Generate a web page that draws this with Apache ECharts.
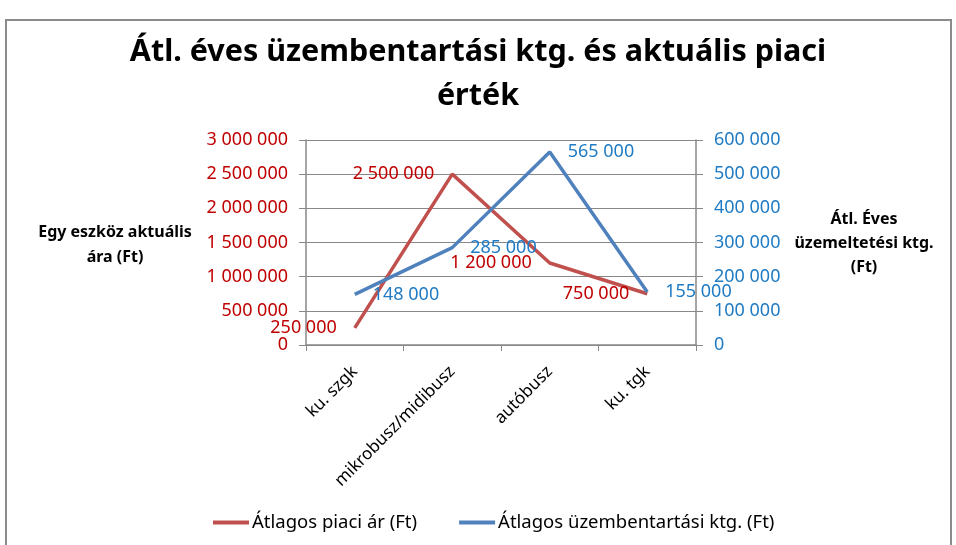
<!DOCTYPE html>
<html>
<head>
<meta charset="utf-8">
<script src="https://cdn.jsdelivr.net/npm/echarts@6/dist/echarts.min.js"></script>
<style>
html,body{margin:0;padding:0;background:#fff;}
#chart{width:956px;height:545px;}
</style>
</head>
<body>
<div id="chart"></div>
<script>
var categories = ['ku. szgk', 'mikrobusz/midibusz', 'autóbusz', 'ku. tgk'];
var piaciAr = [250000, 2500000, 1200000, 750000];
var uzemKtg = [148000, 285000, 565000, 155000];
var seriesNames = ['Átlagos piaci ár (Ft)', 'Átlagos üzembentartási ktg. (Ft)'];
var titleText = 'Átl. éves üzembentartási ktg. és aktuális piaci\nérték';
var leftAxisName = 'Egy eszköz aktuális\nára (Ft)';
var rightAxisName = 'Átl. Éves\nüzemeltetési ktg.\n(Ft)';

function fmt(v) {
  var s = String(Math.round(v));
  return s.replace(/\B(?=(\d{3})+(?!\d))/g, ' ');
}

var FONT = 'Noto Sans';
var chart = echarts.init(document.getElementById('chart'));
chart.setOption({
  animation: false,
  textStyle: {fontFamily: FONT},
  graphic: [
    {type: 'rect', shape: {x: 6, y: 20, width: 945, height: 540},
     style: {fill: 'none', stroke: '#8c8c8c', lineWidth: 2}, silent: true},
    {type: 'text', x: 115, y: 220,
     style: {text: leftAxisName, font: 'bold 16px "Noto Sans"', fill: '#000', align: 'center', verticalAlign: 'top', lineHeight: 25}, z: 10},
    {type: 'text', x: 864, y: 207,
     style: {text: rightAxisName, font: 'bold 16px "Noto Sans"', fill: '#000', align: 'center', verticalAlign: 'top', lineHeight: 24}, z: 10}
  ],
  title: {
    text: titleText,
    left: 'center',
    top: 25,
    textStyle: {fontFamily: FONT, fontSize: 30.5, fontWeight: 'bold', color: '#000', lineHeight: 44}
  },
  legend: {
    bottom: 8,
    left: 208,
    itemWidth: 36,
    itemHeight: 4,
    itemGap: 42,
    icon: 'rect',
    textStyle: {fontFamily: FONT, fontSize: 18.5, color: '#000', padding: [0, 0, 0, -2]},
    data: seriesNames
  },
  grid: {left: 306, right: 260, top: 140, bottom: 200, containLabel: false},
  xAxis: {
    type: 'category',
    data: categories,
    boundaryGap: true,
    axisLine: {lineStyle: {color: '#888', width: 1.5}},
    axisTick: {show: true, length: 6, lineStyle: {color: '#888'}},
    axisLabel: {rotate: 45, fontSize: 17, color: '#000', margin: 24, fontFamily: FONT}
  },
  yAxis: [
    {
      type: 'value', min: 0, max: 3000000, interval: 500000, position: 'left',
      axisLine: {show: true, lineStyle: {color: '#888', width: 1.5}},
      axisTick: {show: true, length: 7, lineStyle: {color: '#888'}},
      splitLine: {show: true, lineStyle: {color: '#888', width: 1.2}},
      axisLabel: {formatter: fmt, color: '#C00000', fontSize: 18, margin: 18, fontFamily: FONT}
    },
    {
      type: 'value', min: 0, max: 600000, interval: 100000, position: 'right',
      axisLine: {show: true, lineStyle: {color: '#888', width: 1.5}},
      axisTick: {show: true, length: 7, lineStyle: {color: '#888'}},
      splitLine: {show: false},
      axisLabel: {formatter: fmt, color: '#1F7BC4', fontSize: 18, margin: 18, fontFamily: FONT}
    }
  ],
  series: [
    {
      name: seriesNames[0], type: 'line', yAxisIndex: 0, data: piaciAr,
      symbol: 'circle', symbolSize: 0, showSymbol: true,
      lineStyle: {color: '#C0504D', width: 3.5}, itemStyle: {color: '#C0504D'},
      label: {show: true, position: 'left', distance: 18, formatter: function (p) { return fmt(p.value); },
              color: '#C00000', fontSize: 18, fontFamily: FONT}
    },
    {
      name: seriesNames[1], type: 'line', yAxisIndex: 1, data: uzemKtg,
      symbol: 'circle', symbolSize: 0, showSymbol: true,
      lineStyle: {color: '#4F81BD', width: 3.5}, itemStyle: {color: '#4F81BD'},
      label: {show: true, position: 'right', distance: 18, formatter: function (p) { return fmt(p.value); },
              color: '#1F7BC4', fontSize: 18, fontFamily: FONT}
    }
  ]
});
</script>
</body>
</html>
